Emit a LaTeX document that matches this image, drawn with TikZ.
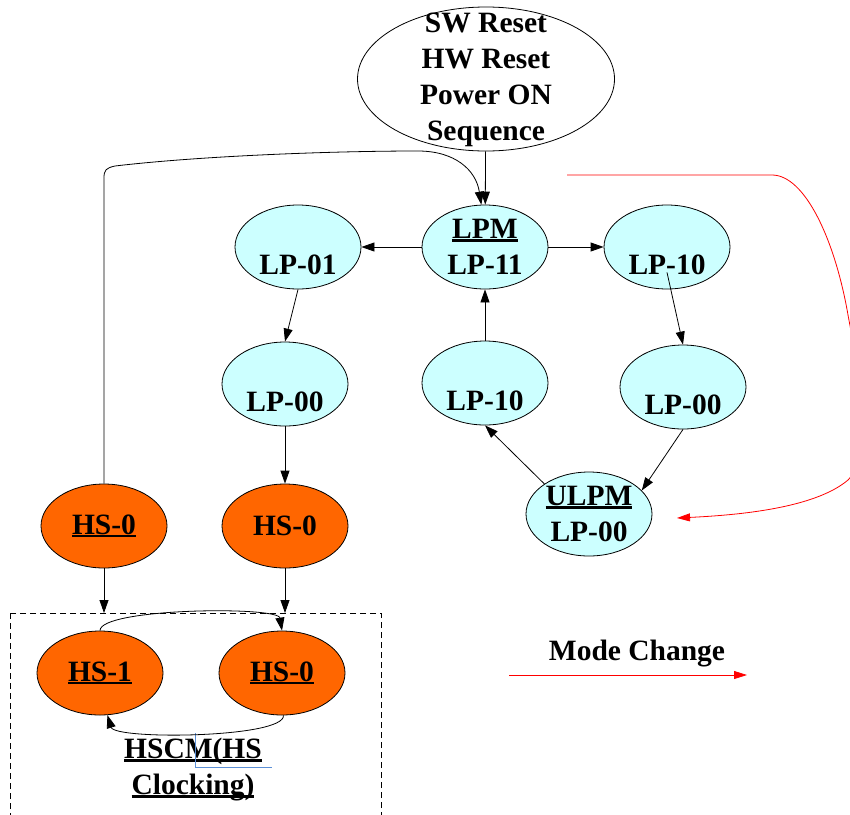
\documentclass[tikz,border=0pt]{standalone}
\usepackage{fontspec}
\setmainfont{Liberation Serif}
\usetikzlibrary{arrows.meta,shapes.geometric}

\definecolor{lpcyan}{HTML}{CCFFFF}
\definecolor{hsorange}{HTML}{FF6600}
\definecolor{cursorblue}{HTML}{5B8FD6}

% thick underline placed just below the baseline
\newcommand\ulbar[1]{\setbox0=\hbox{#1}\rlap{\rule[-3.3pt]{\wd0}{2.2pt}}\box0}

\begin{document}
\begin{tikzpicture}[x=1pt,y=-1pt,
  state/.style={ellipse, draw=black, line width=0.8pt, inner sep=0pt,
                minimum width=126pt, minimum height=84pt},
  lp/.style={state, fill=lpcyan},
  hs/.style={state, fill=hsorange},
  lbl/.style={align=center, inner sep=0pt,
              font=\fontsize{29.5}{36}\selectfont\bfseries},
  flow/.style={draw=black, line width=0.8pt, -{Triangle[length=13pt,width=9pt]}},
  mode/.style={draw=red, line width=0.8pt, -{Triangle[length=13pt,width=8pt]}},
  groupbox/.style={draw=black, line width=0.8pt, dash pattern=on 6pt off 4pt}
]
\useasboundingbox (0,0) rectangle (850,814);
\clip (0,0) rectangle (850,814);

% reset source
\node[state, minimum width=257pt, minimum height=144pt] (reset) at (486,79) {};
\node[lbl] (reset-t) at (reset) {\strut SW Reset\\\strut HW Reset\\\strut Power ON\\\strut Sequence};

% low power states
\node[lp] (lpm)   at (485,247) {};
\node[lp] (lp01)  at (298,247) {};
\node[lp] (lp10r) at (667,247) {};
\node[lp] (lp00l) at (285,384) {};
\node[lp] (lp10m) at (485,383) {};
\node[lp] (lp00r) at (683,387) {};
\node[lp] (ulpm)  at (589,514) {};

\node[lbl] (lpm-t)   at ([yshift=-2pt]lpm)   {\strut\ulbar{LPM}\\\strut LP-11};
\node[lbl] (lp01-t)  at ([yshift=-2pt]lp01)  {\strut\\\strut LP-01};
\node[lbl] (lp10r-t) at ([yshift=-2pt]lp10r) {\strut\\\strut LP-10};
\node[lbl] (lp00l-t) at ([yshift=-2pt]lp00l) {\strut\\\strut LP-00};
\node[lbl] (lp10m-t) at ([yshift=-2pt]lp10m) {\strut\\\strut LP-10};
\node[lbl] (lp00r-t) at ([yshift=-2pt]lp00r) {\strut\\\strut LP-00};
\node[lbl] (ulpm-t)  at ([yshift=-2pt]ulpm)  {\strut\ulbar{ULPM}\\\strut LP-00};

% high speed states
\node[hs] (hs0a) at (104,526) {};
\node[hs] (hs0b) at (285,526) {};
\node[hs] (hs1)  at (100,673) {};
\node[hs] (hs0c) at (282,673) {};

\node[lbl] (hs0a-t) at (hs0a) {\ulbar{HS-0}};
\node[lbl] (hs0b-t) at (hs0b) {HS-0};
\node[lbl] (hs1-t)  at (hs1)  {\ulbar{HS-1}};
\node[lbl] (hs0c-t) at (hs0c) {\ulbar{HS-0}};

% HS clocking group
\coordinate (boxtop) at (10,613);
\draw[groupbox] (boxtop) rectangle (381,830);
\node[lbl] (hscm) at (193,769) {\strut\ulbar{HSCM(HS}\\\strut\ulbar{Clocking)}};
\draw[cursorblue, line width=0.8pt] (195,733) -- (195,767) -- (272,767);

% transitions
\draw[flow] (reset) -- (lpm);
\draw[flow] (hs0a.north) -- (104,178)
  .. controls (104,170) and (106,168) .. (115,166)
  .. controls (200,156) and (330,151) .. (418,151)
  .. controls (455,151) and (476,170) .. (lpm.95);
\draw[flow] (lpm) -- (lp01);
\draw[flow] (lpm) -- (lp10r);
\draw[flow] (lp01.south) -- (lp00l.north);
\draw[flow] (lp00l) -- (hs0b);
\draw[flow] (lp10m) -- (lpm);
\draw[flow] ([yshift=17pt]lp10r.south) -- (lp00r.north);
\draw[flow] (ulpm.146) -- (lp10m.south);
\draw[flow] (lp00r.south) -- (ulpm.24);
\draw[flow] (hs0a.south) -- (hs0a.south |- boxtop);
\draw[flow] (hs0b.south) -- (hs0b.south |- boxtop);
\draw[flow] (hs1.north) .. controls (100,608) and (278,606) .. (hs0c.north);
\draw[flow] (hs0c.-88) .. controls (285,738) and (115,740) .. (hs1.-80);

% mode change path
\coordinate (mcA) at (567,175);
\coordinate (mcB) at (677,518);
\draw[mode] (mcA) -- (772,175)
  .. controls (805,175) and (835,240) .. (848,315)
  .. controls (864,400) and (872,455) .. (848,480)
  .. controls (815,508) and (740,515) .. (mcB);

% legend
\node[lbl, anchor=base] (modetxt) at (637,660) {Mode Change};
\coordinate (legA) at (509,675);
\coordinate (legB) at (747,675);
\draw[mode] (legA) -- (legB);
\end{tikzpicture}
\end{document}
